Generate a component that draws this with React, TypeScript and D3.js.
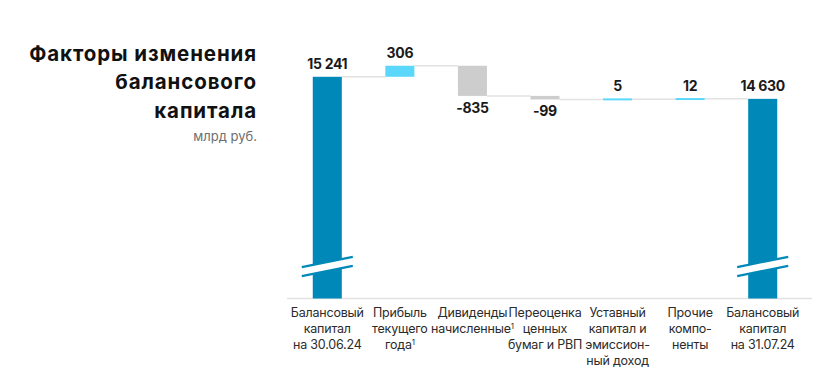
import React from "react";
import * as d3 from "d3";

const categories = ["c1", "c2", "c3", "c4", "c5", "c6", "c7"];
const categoryLabels: string[][] = [
  ["Балансовый", "капитал", "на 30.06.24"],
  ["Прибыль", "текущего", "года¹"],
  ["Дивиденды", "начисленные¹"],
  ["Переоценка", "ценных", "бумаг и РВП"],
  ["Уставный", "капитал и", "эмиссион-", "ный доход"],
  ["Прочие", "компо-", "ненты"],
  ["Балансовый", "капитал", "на 31.07.24"],
];
const startValue = 15241;
const deltas = [306, -835, -99, 5, 12];
const endValue = 14630;
const valueLabels = ["15 241", "306", "-835", "-99", "5", "12", "14 630"];
const titleLines = ["Факторы изменения", "балансового", "капитала"];
const unitLabel = "млрд руб.";

const W = 839;
const H = 373;
const COL_TOTAL = "#0088B9";
const COL_POS = "#5AD7FA";
const COL_NEG = "#CDCDCD";
const FONT = "Inter, 'Open Sans', sans-serif";

type Bar = { key: string; lo: number; hi: number; kind: "total" | "pos" | "neg"; end: number };

export default function App() {
  const bars: Bar[] = [];
  bars.push({ key: categories[0], lo: -Infinity, hi: startValue, kind: "total", end: startValue });
  let cur = startValue;
  deltas.forEach((d, i) => {
    const next = cur + d;
    bars.push({
      key: categories[i + 1],
      lo: Math.min(cur, next),
      hi: Math.max(cur, next),
      kind: d >= 0 ? "pos" : "neg",
      end: next,
    });
    cur = next;
  });
  bars.push({ key: categories[6], lo: -Infinity, hi: endValue, kind: "total", end: endValue });

  const axisY = 298.5;
  const x = d3.scaleBand<string>().domain(categories).range([291, 799]).paddingInner(0.6).paddingOuter(0.3);
  const y = d3.scaleLinear().domain([9100, 16260]).range([axisY, 40]);
  const bw = x.bandwidth();

  const color = (k: Bar["kind"]) => (k === "total" ? COL_TOTAL : k === "pos" ? COL_POS : COL_NEG);

  const renderLine = (ln: string) => {
    const idx = ln.indexOf("¹");
    if (idx < 0) return ln;
    return (
      <>
        {ln.slice(0, idx)}
        <tspan fontSize={8} dy={-4}>1</tspan>
        <tspan dy={4}>{""}</tspan>
      </>
    );
  };

  return (
    <svg width={W} height={H} style={{ position: "absolute", left: 0, top: 0, background: "#fff" }}>
      {/* title */}
      <g fontFamily={FONT} textAnchor="end">
        {titleLines.map((t, i) => (
          <text key={i} x={257} y={61 + i * 28.3} fontSize={20.5} fontWeight={700} fill="#111" letterSpacing={0.9}>
            {t}
          </text>
        ))}
        <text x={257} y={140.5} fontSize={13} fill="#6e6e6e">
          {unitLabel}
        </text>
      </g>

      {/* axis line */}
      <line x1={287} x2={812} y1={axisY} y2={axisY} stroke="#e2e2e2" strokeWidth={1.5} />

      {/* connectors */}
      {bars.slice(0, -1).map((b, i) => {
        const x1 = (x(b.key) as number) + bw;
        const x2 = x(bars[i + 1].key) as number;
        const yy = y(b.end);
        return <line key={"c" + i} x1={x1} x2={x2} y1={yy} y2={yy} stroke="#e2e2e2" strokeWidth={1.5} />;
      })}

      {/* bars */}
      {bars.map((b, i) => {
        const x0 = x(b.key) as number;
        const top = y(b.hi);
        const bottom = b.kind === "total" ? axisY : y(b.lo);
        let h = bottom - top;
        let yt = top;
        if (h < 2) {
          yt = top - (2 - h) / 2;
          h = 2;
        }
        return <rect key={"b" + i} x={x0} y={yt} width={bw} height={h} fill={color(b.kind)} />;
      })}

      {/* breaks */}
      {bars
        .filter((b) => b.kind === "total")
        .map((b, i) => {
          const cx = (x(b.key) as number) + bw / 2;
          const cy = 262;
          const dx = 25.5;
          const dy = 5.2;
          const gap = 9;
          const pts = [
            [cx - dx, cy + dy],
            [cx + dx, cy - dy],
            [cx + dx, cy - dy + gap],
            [cx - dx, cy + dy + gap],
          ];
          return (
            <g key={"br" + i}>
              <polygon points={pts.map((p) => p.join(",")).join(" ")} fill="#fff" />
              <line x1={cx - dx} y1={cy + dy} x2={cx + dx} y2={cy - dy} stroke={COL_TOTAL} strokeWidth={2.2} />
              <line x1={cx - dx} y1={cy + dy + gap} x2={cx + dx} y2={cy - dy + gap} stroke={COL_TOTAL} strokeWidth={2.2} />
            </g>
          );
        })}

      {/* value labels */}
      <g fontFamily={FONT} fontWeight={700} fontSize={14} fill="#1a1a1a" textAnchor="middle" letterSpacing={-0.3}>
        {bars.map((b, i) => {
          const cx = (x(b.key) as number) + bw / 2;
          const yy = b.kind === "neg" ? y(b.lo) + 17 : y(b.hi) - 8;
          return (
            <text key={"v" + i} x={cx} y={yy}>
              {valueLabels[i]}
            </text>
          );
        })}
      </g>

      {/* category labels */}
      <g fontFamily={FONT} fontSize={12.5} fill="#2b2b2b" textAnchor="middle" letterSpacing={-0.2}>
        {categories.map((c, i) => {
          const cx = (x(c) as number) + bw / 2;
          return (
            <text key={"l" + i} x={cx} y={317}>
              {categoryLabels[i].map((ln, j) => (
                <tspan key={j} x={cx} y={317 + j * 16}>
                  {renderLine(ln)}
                </tspan>
              ))}
            </text>
          );
        })}
      </g>
    </svg>
  );
}
